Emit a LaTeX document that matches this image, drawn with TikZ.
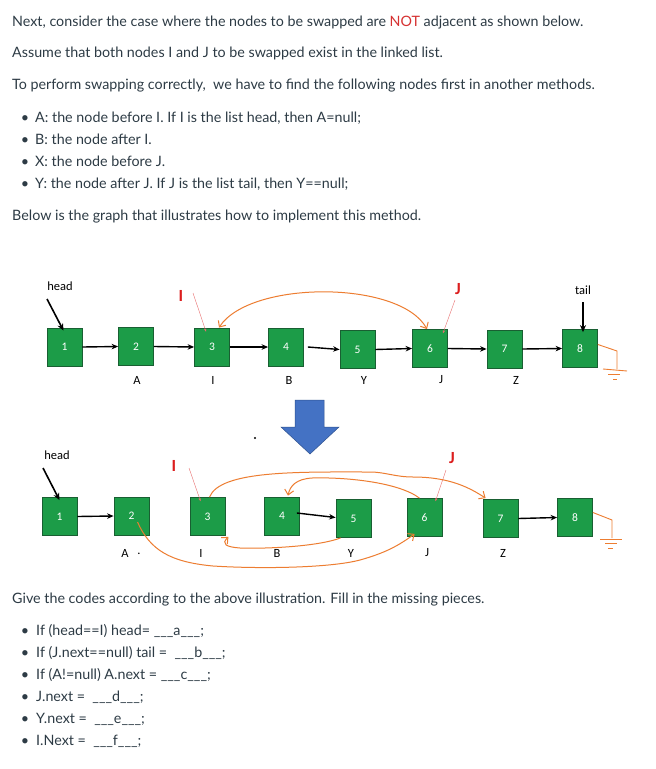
\documentclass[tikz,border=0pt]{standalone}
\usepackage{fontspec}
\setmainfont{Lato}
\newfontfamily\calfont{Carlito}
\usetikzlibrary{arrows.meta}
\definecolor{txtc}{RGB}{45,59,69}
\definecolor{notred}{RGB}{214,50,50}
\definecolor{lgreen}{RGB}{28,156,72}
\definecolor{ndark}{RGB}{25,95,50}
\definecolor{orng}{RGB}{237,125,49}
\definecolor{redlab}{RGB}{220,30,30}
\definecolor{redarr}{RGB}{232,110,110}
\definecolor{pblue}{RGB}{68,114,196}
\definecolor{pbluedk}{RGB}{47,82,143}
\tikzset{
  txt/.style={anchor=base west, inner sep=0, text=txtc, font=\fontsize{14.3}{18}\selectfont},
  bul/.style={anchor=base, inner sep=0, text=txtc, font=\fontsize{14.3}{18}\selectfont},
  lnode/.style={draw=ndark, fill=lgreen, minimum width=35pt, minimum height=38pt, inner sep=0, line width=0.8pt, text=white, font=\calfont\fontsize{11.5}{13}\selectfont},
  lbl/.style={inner sep=0, font=\calfont\fontsize{12.5}{14}\selectfont},
  redl/.style={inner sep=0, text=redlab, font=\calfont\bfseries\fontsize{17}{19}\selectfont},
  ptr/.style={-{Stealth[length=6.5pt,width=5.5pt]}, line width=1.4pt},
  thickptr/.style={-{Stealth[length=7pt,width=6pt]}, line width=1.6pt},
  redptr/.style={-{Stealth[length=3pt,width=2.5pt]}, draw=redarr, line width=0.4pt},
  ocurve/.style={draw=orng, line width=1pt},
  oarrow/.style={ocurve, -{Straight Barb[length=5pt,width=9pt]}},
  gnd/.style={draw=orng, line width=0.9pt}
}
\begin{document}
\begin{tikzpicture}[x=1pt,y=-1pt]
\useasboundingbox[fill=white] (0,0) rectangle (656,769);

% ---------- top text ----------
\node[txt] (t1) at (12,26) {Next, consider the case where the nodes to be swapped are \textcolor{notred}{NOT} adjacent as shown below.};
\node[txt] (t2) at (12,57) {Assume that both nodes I and J to be swapped exist in the linked list.};
\node[txt] (t3) at (12,89) {To perform swapping correctly,\ \ we have to find the following nodes first in another methods.};
\node[bul] (b1) at (25,122) {\textbullet};
\node[txt] (t4) at (35,122) {A: the node before I. If I is the list head, then A=null;};
\node[bul] (b2) at (25,144) {\textbullet};
\node[txt] (t5) at (35,144) {B: the node after I.};
\node[bul] (b3) at (25,166) {\textbullet};
\node[txt] (t6) at (35,166) {X: the node before J.};
\node[bul] (b4) at (25,188) {\textbullet};
\node[txt] (t7) at (35,188) {Y: the node after J. If J is the list tail, then Y==null;};
\node[txt] (t8) at (12,220) {Below is the graph that illustrates how to implement this method.};

% ---------- top diagram ----------
\node[lnode] (n1) at (64.5,347) {1};
\node[lnode] (n2) at (136,346.5) {2};
\node[lnode] (n3) at (212,347) {3};
\node[lnode] (n4) at (286,347) {4};
\node[lnode] (n5) at (357.5,349.5) {5};
\node[lnode] (n6) at (430,348.5) {6};
\node[lnode] (n7) at (504.5,349) {7};
\node[lnode] (n8) at (580,348.5) {8};

\draw[ptr] (n1.east) -- (n2.west);
\draw[ptr] (n2.east) -- (n3.west);
\draw[ptr] (n3.east) -- (n4.west);
\draw[ptr] ([xshift=4pt]n4.east) -- (n5.west);
\draw[ptr] (n5.east) -- (n6.west);
\draw[ptr] (n6.east) -- (n7.west);
\draw[ptr] (n7.east) -- (n8.west);

\node[lbl] (la) at (137,380) {A};
\node[lbl] (li) at (213,380) {I};
\node[lbl] (lb) at (289,380) {B};
\node[lbl] (ly) at (364,380) {Y};
\node[lbl] (lj) at (441,380) {J};
\node[lbl] (lz) at (516,380) {Z};

\node[lbl] (head1) at (60,286) {head};
\coordinate (hd1) at (47,299);
\draw[thickptr] (hd1) -- ([xshift=-1pt,yshift=-3pt]n1.north);
\node[lbl] (tail1) at (583,290) {tail};
\coordinate (tl1) at (583,302);
\draw[thickptr] (tl1) -- ([xshift=3pt,yshift=-3pt]n8.north);

\node[redl] (ri1) at (181,296) {I};
\node[redl] (rj1) at (458,289) {J};
\coordinate (ri1s) at (193,293);
\coordinate (rj1s) at (455,300);
\draw[redptr] (ri1s) -- ([xshift=-6pt,yshift=-4pt]n3.north);
\draw[redptr] (rj1s) -- ([xshift=13pt,yshift=-4pt]n6.north);

\draw[ocurve, {Straight Barb[length=5pt,width=9pt]}-{Straight Barb[length=5pt,width=9pt]}]
  ([xshift=-3pt]n6.north) .. controls (400,280) and (250,280) .. ([xshift=7pt]n3.north);

% ground top
\draw[gnd] ([yshift=4pt]n8.east) -- (617,351) -- (617,369);
\draw[gnd] (603,369) -- (627,371);
\draw[gnd] (608,374) -- (620,374);
\draw[gnd] (613,379) -- (617,379);

% ---------- blue arrow ----------
\draw[fill=pblue, draw=pbluedk, line width=0.5pt] (295,400) -- (324,400) -- (324,427) -- (339,427) -- (310,454) -- (281,427) -- (295,427) -- cycle;
\fill[black] (255,438) circle (1.2pt);

% ---------- bottom diagram ----------
\node[lnode] (m1) at (59.5,516.5) {1};
\node[lnode] (m2) at (131.5,516) {2};
\node[lnode] (m3) at (207.5,516.5) {3};
\node[lnode] (m4) at (282,516) {4};
\node[lnode] (m5) at (353.5,518.5) {5};
\node[lnode] (m6) at (424.5,517.5) {6};
\node[lnode] (m7) at (500.5,518.5) {7};
\node[lnode] (m8) at (575,517.5) {8};

\draw[ptr] (m1.east) -- (m2.west);
\draw[ptr] ([xshift=-3pt,yshift=3pt]m4.east) -- ([yshift=1pt]m5.west);
\draw[ptr] (m7.east) -- (m8.west);

\node[lbl] (ma) at (125,553) {A};
\node[lbl] (mdot) at (139,554) {.};
\node[lbl] (mi) at (201,553) {I};
\node[lbl] (mb) at (277,553) {B};
\node[lbl] (my) at (351,553) {Y};
\node[lbl] (mj) at (427,553) {J};
\node[lbl] (mz) at (503,553) {Z};

\node[lbl] (head2) at (57,455) {head};
\coordinate (hd2) at (43,468);
\draw[thickptr] (hd2) -- ([xshift=0pt,yshift=-3pt]m1.north);

\node[redl] (ri2) at (174,466) {I};
\node[redl] (rj2) at (452,458) {J};
\coordinate (ri2s) at (189,468);
\coordinate (rj2s) at (446,470);
\draw[redptr] (ri2s) -- ([xshift=-7pt,yshift=-4pt]m3.north);
\draw[redptr] (rj2s) -- ([xshift=11pt,yshift=-3pt]m6.north);

% I.next = Z
\draw[oarrow] ([xshift=2pt]m3.north) .. controls (220,470) and (300,472) .. (370,472)
  .. controls (385,472) and (395,477) .. (413,477)
  .. controls (450,477) and (470,488) .. ([xshift=3pt,yshift=1pt]m7.north west);
% J.next = B
\draw[oarrow] ([xshift=-5pt]m6.north) .. controls (398,482) and (345,477) .. (312,478)
  .. controls (296,479) and (290,486) .. ([xshift=6pt,yshift=1pt]m4.north);
% Y.next = I
\draw[oarrow] ([xshift=5pt]m5.south west) .. controls (320,546) and (270,549) .. (240,548)
  .. controls (226,547) and (221,544) .. ([xshift=3pt,yshift=-1pt]m3.south east);
% A.next = J
\draw[oarrow] ([xshift=6pt,yshift=-6pt]m2.center) .. controls (150,550) and (170,562) .. (213,566)
  .. controls (260,569) and (330,568) .. (360,560)
  .. controls (385,553) and (398,546) .. ([xshift=8pt,yshift=3pt]m6.south west);

% ground bottom
\draw[gnd] ([yshift=5pt]m8.east) -- (612,520) -- (612,538);
\draw[gnd] (600,539) -- (622,539);
\draw[gnd] (605,543) -- (617,543);
\draw[gnd] (608,548) -- (613,548);

% ---------- bottom text ----------
\node[txt] (g0) at (12,603) {Give the codes according to the above illustration. Fill in the missing pieces.};
\node[bul] (c1) at (25,635) {\textbullet};
\node[txt] (g1) at (36,635) {If (head==I) head= \_\_\_a\_\_\_;};
\node[bul] (c2) at (25,657) {\textbullet};
\node[txt] (g2) at (36,657) {If (J.next==null) tail =\ \ \_\_\_b\_\_\_;};
\node[bul] (c3) at (25,679) {\textbullet};
\node[txt] (g3) at (36,679) {If (A!=null) A.next = \_\_\_c\_\_\_;};
\node[bul] (c4) at (25,701) {\textbullet};
\node[txt] (g4) at (36,701) {J.next =\ \ \_\_\_d\_\_\_;};
\node[bul] (c5) at (25,723) {\textbullet};
\node[txt] (g5) at (36,723) {Y.next =\ \ \_\_\_e\_\_\_;};
\node[bul] (c6) at (25,745) {\textbullet};
\node[txt] (g6) at (36,745) {I.Next =\ \ \_\_\_f\_\_\_;};
\end{tikzpicture}
\end{document}
